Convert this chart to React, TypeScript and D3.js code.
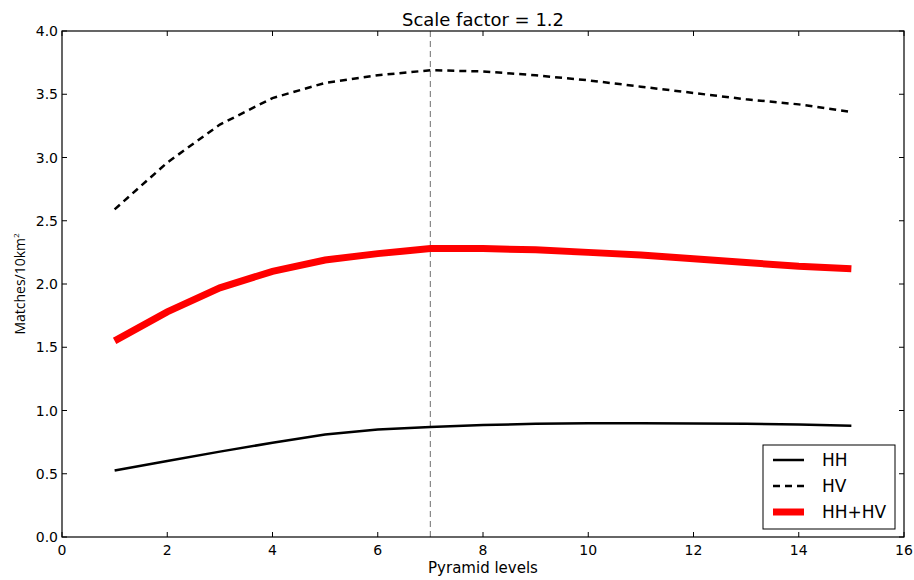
import * as d3 from 'd3';

const levels = [1, 2, 3, 4, 5, 6, 7, 8, 9, 10, 11, 12, 13, 14, 15];
const hh = [0.525, 0.6, 0.675, 0.745, 0.81, 0.85, 0.87, 0.885, 0.895, 0.9, 0.9, 0.898, 0.895, 0.89, 0.88];
const hv = [2.59, 2.96, 3.26, 3.47, 3.59, 3.65, 3.69, 3.68, 3.65, 3.61, 3.56, 3.51, 3.46, 3.42, 3.36];
const hhhv = [1.55, 1.78, 1.97, 2.1, 2.19, 2.24, 2.28, 2.28, 2.27, 2.25, 2.23, 2.2, 2.17, 2.14, 2.12];
const xTicks = [0, 2, 4, 6, 8, 10, 12, 14, 16];
const yTicks = [0, 0.5, 1, 1.5, 2, 2.5, 3, 3.5, 4];
const markerLevel = 7;

const series = [
  { name: 'HH', values: hh, color: '#000', width: 2.5, dash: null },
  { name: 'HV', values: hv, color: '#000', width: 2.5, dash: '7,5' },
  { name: 'HH+HV', values: hhhv, color: '#ff0000', width: 7, dash: null },
];

const MARGIN = { top: 31, right: 10, bottom: 43, left: 62 };
const FONT = 'DejaVu Sans, sans-serif';

export default function App() {
  const width = 914,
    height = 580;
  const boundsWidth = width - MARGIN.left - MARGIN.right;
  const boundsHeight = height - MARGIN.top - MARGIN.bottom;

  const xScale = d3.scaleLinear().domain([0, 16]).range([0, boundsWidth]);
  const yScale = d3.scaleLinear().domain([0, 4]).range([boundsHeight, 0]);

  const line = d3
    .line<number>()
    .x((_, i) => xScale(levels[i]))
    .y(d => yScale(d));

  return (
    <svg
      width={width}
      height={height}
      style={{ position: 'absolute', left: 0, top: 0, background: '#fff' }}
      fontFamily={FONT}
    >
      <text x={MARGIN.left + boundsWidth / 2} y={26} textAnchor="middle" fontSize={18}>
        Scale factor = 1.2
      </text>
      <g transform={`translate(${MARGIN.left},${MARGIN.top})`}>
        {/* vertical marker */}
        <line
          x1={xScale(markerLevel)}
          x2={xScale(markerLevel)}
          y1={0}
          y2={boundsHeight}
          stroke="#888"
          strokeWidth={1.2}
          strokeDasharray="6,4"
        />
        {series.map(s => (
          <path
            key={s.name}
            d={line(s.values) ?? ''}
            fill="none"
            stroke={s.color}
            strokeWidth={s.width}
            strokeDasharray={s.dash ?? undefined}
          />
        ))}

        {/* ticks, inward on all sides */}
        {xTicks.map(t => (
          <g key={'x' + t}>
            <line x1={xScale(t)} x2={xScale(t)} y1={boundsHeight} y2={boundsHeight - 5} stroke="#000" />
            <line x1={xScale(t)} x2={xScale(t)} y1={0} y2={5} stroke="#000" />
            <text x={xScale(t)} y={boundsHeight + 18} textAnchor="middle" fontSize={14}>
              {t}
            </text>
          </g>
        ))}
        {yTicks.map(t => (
          <g key={'y' + t}>
            <line x1={0} x2={5} y1={yScale(t)} y2={yScale(t)} stroke="#000" />
            <line x1={boundsWidth} x2={boundsWidth - 5} y1={yScale(t)} y2={yScale(t)} stroke="#000" />
            <text x={-4} y={yScale(t)} textAnchor="end" dominantBaseline="central" fontSize={14}>
              {t.toFixed(1)}
            </text>
          </g>
        ))}
        <rect x={0} y={0} width={boundsWidth} height={boundsHeight} fill="none" stroke="#000" strokeWidth={1.2} />

        {/* legend */}
        <g transform={`translate(${boundsWidth - 141},${boundsHeight - 92})`}>
          <rect x={0} y={0} width={132} height={84} fill="#fff" stroke="#000" strokeWidth={1} />
          {series.map((s, i) => (
            <g key={s.name} transform={`translate(0,${15 + i * 26})`}>
              <line
                x1={10}
                x2={41}
                y1={0}
                y2={0}
                stroke={s.color}
                strokeWidth={s.width}
                strokeDasharray={s.dash ?? undefined}
              />
              <text x={59} y={0} dominantBaseline="central" fontSize={17}>
                {s.name}
              </text>
            </g>
          ))}
        </g>
      </g>
      <text x={MARGIN.left + boundsWidth / 2} y={573} textAnchor="middle" fontSize={15}>
        Pyramid levels
      </text>
      <text
        transform={`translate(25,${MARGIN.top + boundsHeight / 2}) rotate(-90)`}
        textAnchor="middle"
        fontSize={14}
        fontFamily="Open Sans, sans-serif"
      >
        Matches/10km<tspan dy={-6} fontSize={8}>2</tspan>
      </text>
    </svg>
  );
}
